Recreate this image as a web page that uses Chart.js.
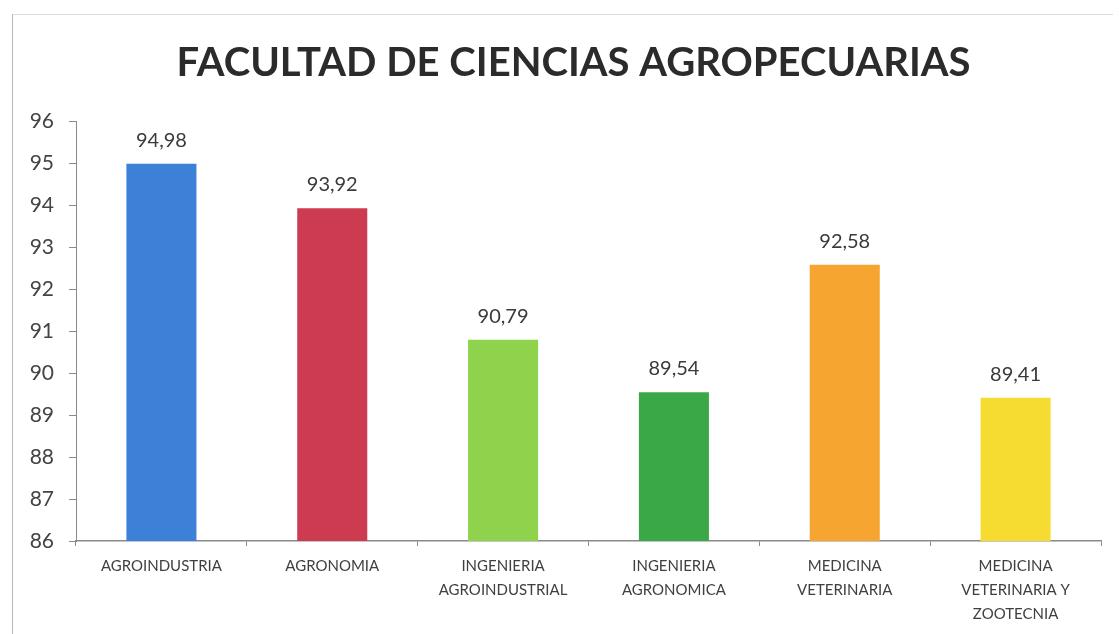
<!DOCTYPE html>
<html>
<head>
<meta charset="utf-8">
<script src="https://cdn.jsdelivr.net/npm/chart.js@4/dist/chart.umd.min.js"></script>
<style>
  html, body { margin: 0; padding: 0; background: #fff; }
  #wrap { position: relative; width: 1119px; height: 634px; }
  #frame { position: absolute; left: 12px; top: 14px; right: 6px; bottom: -2px;
           border-left: 1px solid #b8b8b8; border-top: 1px solid #d8dde0; }
  canvas { position: absolute; left: 0; top: 0; }
</style>
</head>
<body>
<div id="wrap">
  <div id="frame"></div>
  <canvas id="chart" width="1119" height="634"></canvas>
</div>
<script>
// Datos
const titulo = 'FACULTAD DE CIENCIAS AGROPECUARIAS';
const programas = [
  'AGROINDUSTRIA',
  'AGRONOMIA',
  ['INGENIERIA', 'AGROINDUSTRIAL'],
  ['INGENIERIA', 'AGRONOMICA'],
  ['MEDICINA', 'VETERINARIA'],
  ['MEDICINA', 'VETERINARIA Y', 'ZOOTECNIA']
];
const puntajes = [94.98, 93.92, 90.79, 89.54, 92.58, 89.41];
const coloresBarras = ['#3d80d8', '#cc3b4f', '#8fd24c', '#3ba847', '#f6a531', '#f6dc30'];
const yMin = 86, yMax = 96;

// titulo (dibujado aparte para poder centrarlo como en el original)
const tituloPlugin = {
  id: 'tituloPlugin',
  afterDraw(chart) {
    const c = chart.ctx;
    const a = chart.chartArea;
    c.save();
    c.font = 'bold 40px Lato';
    c.fillStyle = '#2b2b2b';
    c.textAlign = 'center';
    c.textBaseline = 'alphabetic';
    c.fillText(titulo, (a.left + a.right) / 2 - 15, 76);
    c.restore();
  }
};

// valores encima de cada barra, formato con coma decimal
const valueLabels = {
  id: 'valueLabels',
  afterDatasetsDraw(chart) {
    const c = chart.ctx;
    const meta = chart.getDatasetMeta(0);
    c.save();
    c.font = '20px Lato';
    c.fillStyle = '#3a3a3a';
    c.textAlign = 'center';
    c.textBaseline = 'alphabetic';
    meta.data.forEach((bar, i) => {
      const txt = puntajes[i].toFixed(2).replace('.', ',');
      c.fillText(txt, bar.x, bar.y - 17);
    });
    c.restore();
  }
};

const ctx = document.getElementById('chart').getContext('2d');
new Chart(ctx, {
  type: 'bar',
  data: {
    labels: programas,
    datasets: [{
      data: puntajes,
      backgroundColor: coloresBarras,
      borderWidth: 0,
      categoryPercentage: 1.0,
      barPercentage: 0.41
    }]
  },
  options: {
    responsive: false,
    animation: false,
    layout: { padding: { left: 0, right: 18, top: 121, bottom: 0 } },
    plugins: {
      legend: { display: false },
      tooltip: { enabled: false },
      title: { display: false }
    },
    scales: {
      y: {
        min: yMin,
        max: yMax,
        afterFit(scale) { scale.width = 76; },
        ticks: {
          stepSize: 1,
          color: '#444',
          font: { family: 'Lato', size: 21 },
          padding: 15
        },
        grid: { drawOnChartArea: false, drawTicks: true, tickLength: 7, color: '#8a8a8a' },
        border: { display: true, color: '#8a8a8a', width: 1 }
      },
      x: {
        afterFit(scale) { scale.height = 93; },
        ticks: {
          color: '#404040',
          font: { family: 'Lato', size: 15, lineHeight: 1.6 },
          padding: 8,
          maxRotation: 0,
          autoSkip: false
        },
        grid: { drawOnChartArea: false, drawTicks: true, tickLength: 5, color: '#8a8a8a' },
        border: { display: true, color: '#8a8a8a', width: 1.5 }
      }
    }
  },
  plugins: [valueLabels, tituloPlugin]
});
</script>
</body>
</html>
